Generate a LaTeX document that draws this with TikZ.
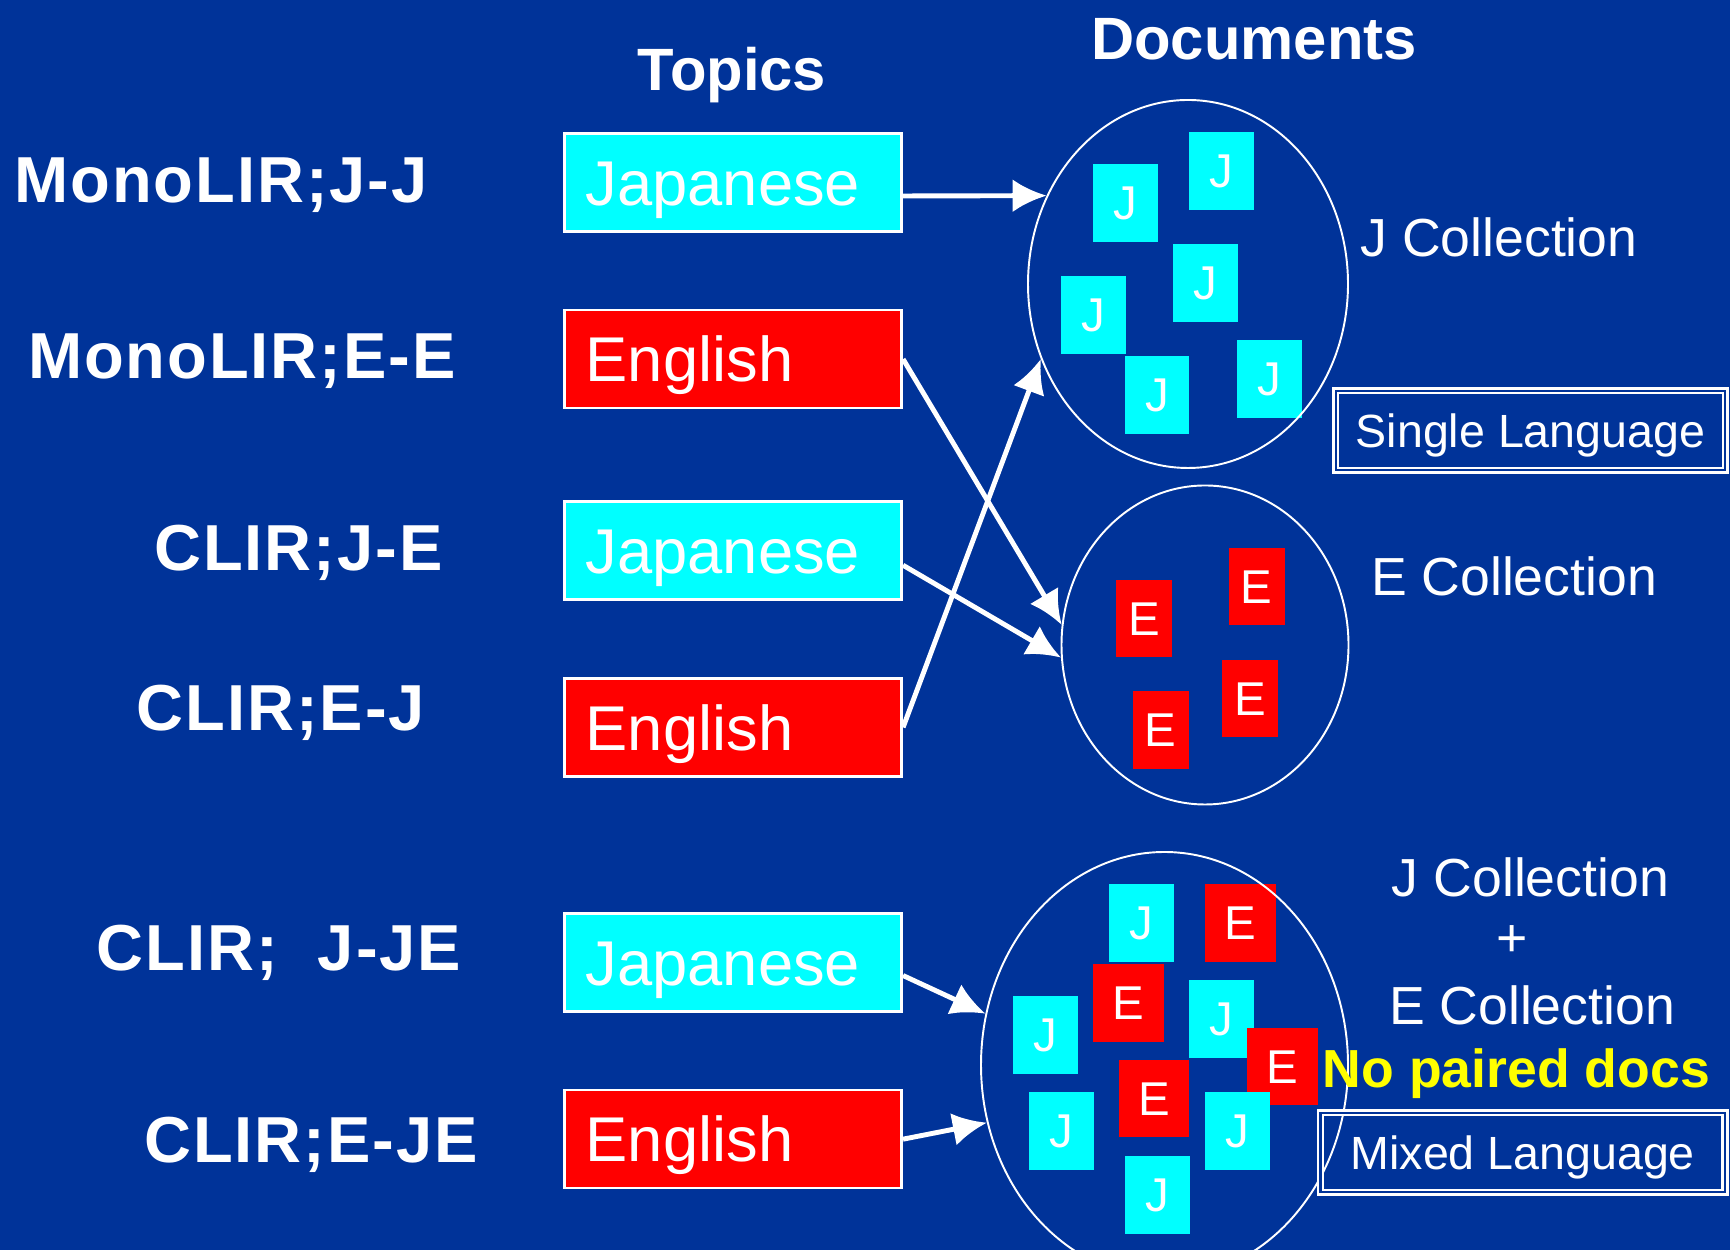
\documentclass[tikz,border=0pt]{standalone}
\usepackage{fontspec}
\setmainfont{Liberation Sans}
\newfontfamily\tagfont[LetterSpace=3.0]{Liberation Sans}
\usepackage{tikz}
\usetikzlibrary{positioning}
\usetikzlibrary{shapes.geometric}
\usetikzlibrary{arrows.meta}
\definecolor{Slide-bg}{RGB}{0,51,153}
\definecolor{Slide-cyan}{RGB}{0,255,255}
\definecolor{Slide-red}{RGB}{255,0,0}
\definecolor{Slide-yellow}{RGB}{255,255,0}

\begin{document}
\begin{tikzpicture}
    \tikzset{ tpc/.style={draw=white, line width=1.5pt, text=white, text width=5.89cm, inner xsep=0.43cm, align=left, minimum height=1.96cm, font=\fontsize{36pt}{40pt}\selectfont, text height=25.8pt, text depth=0pt} }
    \tikzset{ doc/.style={text=white, inner sep=0pt, minimum height=1.55cm, font=\fontsize{27pt}{30pt}\selectfont, text height=19.3pt, text depth=0pt} }
    \tikzset{ jdoc/.style={doc, fill=Slide-cyan, minimum width=1.29cm} }
    \tikzset{ edoc/.style={doc, fill=Slide-red, minimum width=1.12cm} }
    \tikzset{ coll/.style={draw=white, line width=1.1pt, ellipse, inner sep=0pt} }
    \tikzset{ lang/.style={draw=white, double=Slide-bg, double distance=1.4pt, line width=1.4pt, text=white, minimum height=1.59cm, font=\fontsize{26.5pt}{30pt}\selectfont, text height=19pt, text depth=0pt} }
    \tikzset{ lbl/.style={text=white, anchor=base, font=\tagfont\bfseries\fontsize{37pt}{40pt}\selectfont} }
    \tikzset{ hdr/.style={text=white, anchor=base, font=\bfseries\fontsize{34pt}{38pt}\selectfont} }
    \tikzset{ txt/.style={text=white, anchor=base, font=\fontsize{30.5pt}{34pt}\selectfont} }
    \tikzset{ lnk/.style={draw=white, line width=2.8pt} }

    \useasboundingbox (0,0) rectangle (34.6,25);
    \clip (0,0) rectangle (34.6,25);
    \fill[Slide-bg] (0,0) rectangle (34.6,25);

    \node[hdr] (topics) at (14.64, 23.18) {Topics};
    \node[hdr] (docs)   at (25.08, 23.81) {Documents};

    \node[lbl] (l1) at (4.42, 20.94) {MonoLIR;J-J};
    \node[lbl] (l2) at (4.84, 17.42) {MonoLIR;E-E};
    \node[lbl] (l3) at (5.97, 13.59) {CLIR;J-E};
    \node[lbl] (l4) at (5.62, 10.39) {CLIR;E-J};
    \node[lbl] (l5) at (5.58,  5.59) {CLIR;~~J-JE};
    \node[lbl] (l6) at (6.22,  1.74) {CLIR;E-JE};

    \node[tpc, fill=Slide-cyan              ] (tj1) at (14.66, 21.35) {Japanese};
    \node[tpc, fill=Slide-red,  below=1.52cm of tj1] (te2)                {English};
    \node[tpc, fill=Slide-cyan, below=1.82cm of te2] (tj3)                {Japanese};
    \node[tpc, fill=Slide-red,  below=1.52cm of tj3] (te4)                {English};
    \node[tpc, fill=Slide-cyan, below=2.69cm of te4] (tj5)                {Japanese};
    \node[tpc, fill=Slide-red,  below=1.52cm of tj5] (te6)                {English};

    % J collection
    \node[jdoc] (j1) at (22.51, 20.94) {J};
    \node[jdoc] (j2) at (24.43, 21.58) {J};
    \node[jdoc] (j3) at (24.11, 19.34) {J};
    \node[jdoc] (j4) at (21.87, 18.70) {J};
    \node[jdoc] (j5) at (23.14, 17.10) {J};
    \node[jdoc] (j6) at (25.39, 17.42) {J};

    % E collection
    \node[edoc] (e1) at (22.88, 12.63) {E};
    \node[edoc] (e2) at (25.13, 13.27) {E};
    \node[edoc] (e3) at (25.00, 11.03) {E};
    \node[edoc] (e4) at (23.21, 10.40) {E};

    % mixed collection
    \node[jdoc]                     (m1)  at (22.83, 6.54) {J};
    \node[edoc, minimum width=1.41cm] (m2)  at (24.81, 6.54) {E};
    \node[edoc, minimum width=1.41cm] (m3)  at (22.57, 4.94) {E};
    \node[jdoc]                     (m4)  at (24.43, 4.62) {J};
    \node[jdoc]                     (m5)  at (20.91, 4.30) {J};
    \node[edoc, minimum width=1.41cm] (m6)  at (25.65, 3.67) {E};
    \node[edoc, minimum width=1.41cm] (m7)  at (23.08, 3.03) {E};
    \node[jdoc]                     (m8)  at (21.23, 2.38) {J};
    \node[jdoc]                     (m9)  at (24.75, 2.38) {J};
    \node[jdoc]                     (m10) at (23.15, 1.10) {J};

    \node[coll, minimum width=6.40cm, minimum height=7.36cm] (jcol) at (23.76, 19.32) {};
    \node[coll, minimum width=5.74cm, minimum height=6.38cm] (ecol) at (24.10, 12.10) {};
    \node[coll, minimum width=7.34cm, minimum height=8.52cm] (mcol) at (23.29,  3.70) {};

    \node[txt] (jname)  at (29.98, 19.86) {J Collection};
    \node[txt] (ename)  at (30.28, 13.08) {E Collection};
    \node[txt] (mjname) at (30.61,  7.06) {J Collection};
    \node[txt, anchor=center] (plus) at (30.24, 6.18) {+};
    \node[txt] (mename) at (30.64,  4.50) {E Collection};
    \node[txt, text=Slide-yellow, font=\bfseries\fontsize{30.5pt}{34pt}\selectfont] (nopair) at (30.33, 3.24) {No paired docs};

    \node[lang, minimum width=7.79cm] (single) at (30.61, 16.39) {Single Language};
    \node[lang, minimum width=8.09cm] (mixed)  at (30.455, 1.95) {Mixed Language};

    \draw[->,>={Latex[length=0.68cm,width=0.66cm]}, lnk] ([yshift=-0.27cm]tj1.east) -- (jcol.148);
    \draw[->,>={Latex[length=0.68cm,width=0.66cm]}, lnk] (te2.east)                 -- (ecol.172.5);
    \draw[->,>={Latex[length=0.68cm,width=0.66cm]}, lnk] ([yshift=-0.29cm]tj3.east) -- (ecol.185);
    \draw[->,>={Latex[length=0.68cm,width=0.66cm]}, lnk] (te4.east)                 -- (jcol.207);
    \draw[->,>={Latex[length=0.68cm,width=0.66cm]}, lnk] ([yshift=-0.26cm]tj5.east) -- (mcol.164);
    \draw[->,>={Latex[length=0.68cm,width=0.66cm]}, lnk] (te6.east)                 -- (mcol.198);
\end{tikzpicture}
\end{document}
